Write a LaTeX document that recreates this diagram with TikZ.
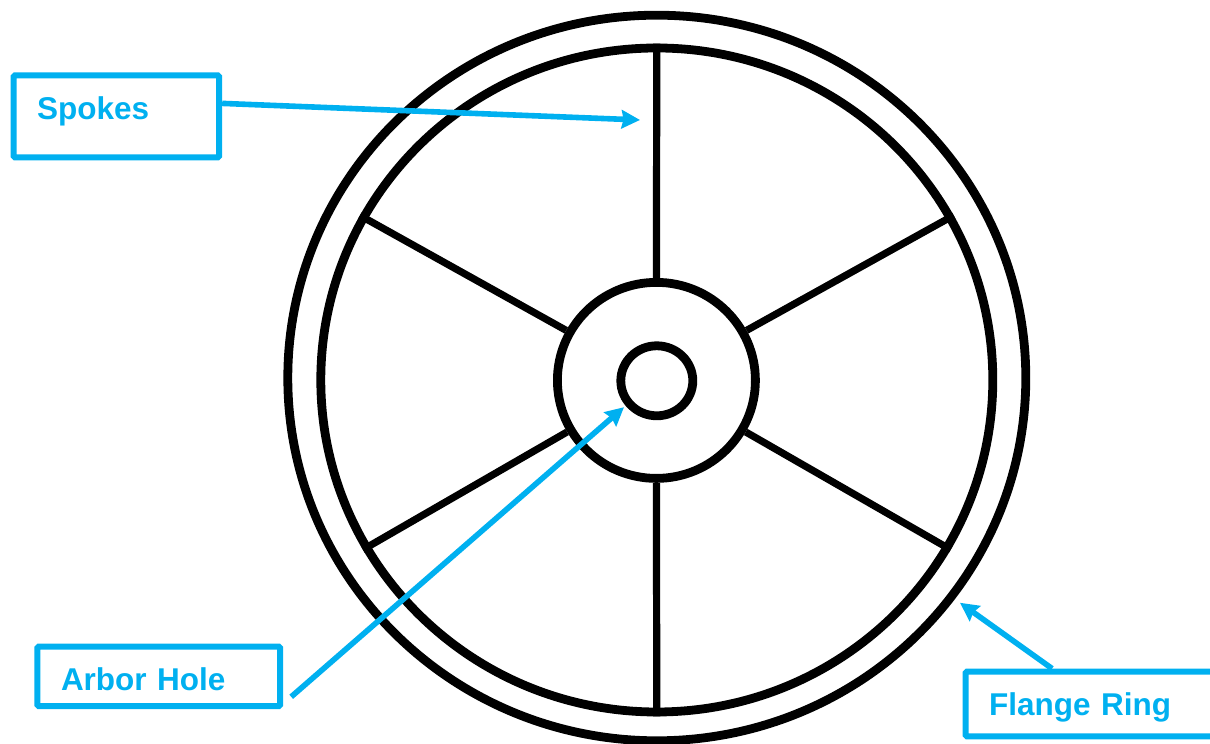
\documentclass[tikz,border=0pt]{standalone}
\usepackage{fontspec}
\setmainfont{Liberation Sans}
\usetikzlibrary{shapes.geometric,arrows.meta,positioning}
\definecolor{tagblue}{HTML}{00B0F0}

\begin{document}
\begin{tikzpicture}[
  ring/.style={ellipse,draw=black,line width=0.22cm,inner sep=0pt},
  spoke/.style={draw=black,line width=0.18cm},
  box/.style={rectangle,draw=tagblue,rounded corners=1pt,line width=0.15cm,inner ysep=0pt,
              inner xsep=0.59cm,align=left,text=tagblue,font=\fontsize{22.4}{26}\selectfont\bfseries},
  arrow/.style={-{Stealth[length=0.46cm,width=0.46cm,inset=0.05cm]},draw=tagblue,line width=0.14cm}
]
\clip (0,0) rectangle (30.25,18.6);
\fill[white] (0,0) rectangle (30.25,18.6);

\node[ring,minimum width=18.45cm,minimum height=18.14cm] (flangeouter) at (16.42,9.15) {};
\node[ring,minimum width=16.8cm,minimum height=16.6cm]   (flangeinner) at (16.42,9.1) {};
\node[ring,minimum width=4.95cm,minimum height=4.9cm]    (hub)   at (16.41,9.09) {};
\node[ring,minimum width=1.8cm,minimum height=1.75cm]    (arbor) at (16.42,9.08) {};

\draw[spoke] (hub.90) -- (flangeinner.90);
\draw[spoke] (hub.29) -- (flangeinner.29);
\draw[spoke] (hub.-30) -- (flangeinner.-30);
\draw[spoke] (hub.-90) -- (flangeinner.-90);
\draw[spoke] (hub.210) -- (flangeinner.210);
\draw[spoke] (hub.151) -- (flangeinner.151);

\node[box,text width=3.96cm,text height=1.11cm,text depth=0.94cm] (spokes) at (2.91,15.69) {Spokes};
\node[box,text width=4.89cm,text height=1.10cm,text depth=0.39cm] (arborlabel) at (3.97,1.69) {Arbor Hole};
\node[box,text width=6.94cm,text height=1.10cm,text depth=0.52cm] (flange) at (28.2,1.0) {Flange Ring};

\coordinate (spoketip) at (16.0,15.6);
\coordinate (arbortail) at (7.28,1.18);
\coordinate (arbortip) at (15.6,8.42);
\coordinate (flangetip) at (24.0,3.53);

\draw[arrow] (spokes.7.5) -- (spoketip);
\draw[arrow] (arbortail) -- (arbortip);
\draw[arrow] (flange.155) -- (flangetip);
\end{tikzpicture}
\end{document}
